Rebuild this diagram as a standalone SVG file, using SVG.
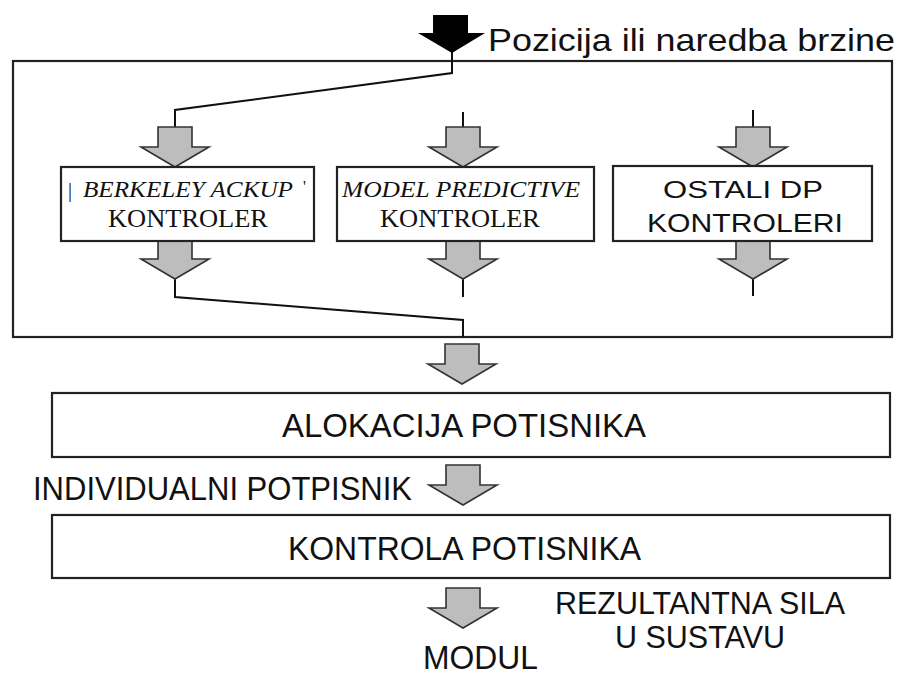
<svg xmlns="http://www.w3.org/2000/svg" width="901" height="675" viewBox="0 0 901 675">
<style>
.box{fill:#fff;stroke:#222;stroke-width:2.2}
.ln{fill:none;stroke:#111;stroke-width:2}
.ga{fill:#bdbdbd;stroke:#333;stroke-width:1.6;stroke-linejoin:miter}
.sans{font-family:"Liberation Sans",Arial,sans-serif;fill:#111}
.serif{font-family:"Liberation Serif","Times New Roman",serif;fill:#111}
</style>
<defs>
<path id="garrow" d="M-17,0 H17 V20 H34 L0,40 L-34,20 H-17 Z"/>
</defs>
<rect width="901" height="675" fill="#fff"/>

<g id="outer">
<rect x="13" y="61" width="879" height="276" fill="none" stroke="#222" stroke-width="2.2"/>
</g>

<g id="connectors">
<path class="ln" d="M452,50 V73 L175,110 V127"/>
<path class="ln" d="M463,112 V127"/>
<path class="ln" d="M753,110 V127"/>
<path class="ln" d="M175,278 V297 L463,320 V337"/>
<path class="ln" d="M463,278 V297"/>
<path class="ln" d="M753,278 V296"/>
<path d="M433,15 H468 V33 H485 L452,53 L418,33 H433 Z" fill="#000"/>
<use href="#garrow" class="ga" x="175" y="127"/>
<use href="#garrow" class="ga" x="463" y="127"/>
<use href="#garrow" class="ga" x="753" y="127"/>
<use href="#garrow" class="ga" x="175" y="239"/>
<use href="#garrow" class="ga" x="463" y="239"/>
<use href="#garrow" class="ga" x="753" y="239"/>
<use href="#garrow" class="ga" x="462" y="344"/>
<use href="#garrow" class="ga" x="463" y="465"/>
<use href="#garrow" class="ga" x="463" y="588"/>
</g>

<g id="input-label">
<text class="sans" x="488" y="51" font-size="32" textLength="407" lengthAdjust="spacingAndGlyphs">Pozicija ili naredba brzine</text>
</g>

<g id="berkeley">
<rect class="box" x="61" y="167" width="253" height="74"/>
<text class="serif" x="68" y="197" font-size="20">|</text>
<text class="serif" x="83" y="197" font-size="23" font-style="italic" textLength="210" lengthAdjust="spacingAndGlyphs">BERKELEY ACKUP</text>
<text class="serif" x="303" y="192" font-size="16">'</text>
<text class="serif" x="108" y="227" font-size="26" textLength="160" lengthAdjust="spacingAndGlyphs">KONTROLER</text>
</g>

<g id="mpc">
<rect class="box" x="337" y="167" width="257" height="74"/>
<text class="serif" x="342" y="197" font-size="23" font-style="italic" textLength="238" lengthAdjust="spacingAndGlyphs">MODEL PREDICTIVE</text>
<text class="serif" x="380" y="227" font-size="26" textLength="160" lengthAdjust="spacingAndGlyphs">KONTROLER</text>
</g>

<g id="ostali">
<rect class="box" x="613" y="166" width="259" height="75"/>
<text class="sans" x="663" y="198" font-size="24" textLength="160" lengthAdjust="spacingAndGlyphs">OSTALI DP</text>
<text class="sans" x="647" y="232" font-size="26" textLength="196" lengthAdjust="spacingAndGlyphs">KONTROLERI</text>
</g>

<g id="alokacija">
<rect class="box" x="52" y="393" width="838" height="64"/>
<text class="sans" x="282" y="437" font-size="34" textLength="364" lengthAdjust="spacingAndGlyphs">ALOKACIJA POTISNIKA</text>
</g>

<g id="individualni">
<text class="sans" x="33" y="500" font-size="34" textLength="379" lengthAdjust="spacingAndGlyphs">INDIVIDUALNI POTPISNIK</text>
</g>

<g id="kontrola">
<rect class="box" x="52" y="515" width="838" height="63"/>
<text class="sans" x="288" y="560" font-size="34" textLength="353" lengthAdjust="spacingAndGlyphs">KONTROLA POTISNIKA</text>
</g>

<g id="rezultantna">
<text class="sans" x="555" y="614" font-size="31" textLength="290" lengthAdjust="spacingAndGlyphs">REZULTANTNA SILA</text>
<text class="sans" x="615" y="648" font-size="31" textLength="170" lengthAdjust="spacingAndGlyphs">U SUSTAVU</text>
</g>

<g id="modul">
<text class="sans" x="423" y="669" font-size="33" textLength="115" lengthAdjust="spacingAndGlyphs">MODUL</text>
</g>
</svg>
